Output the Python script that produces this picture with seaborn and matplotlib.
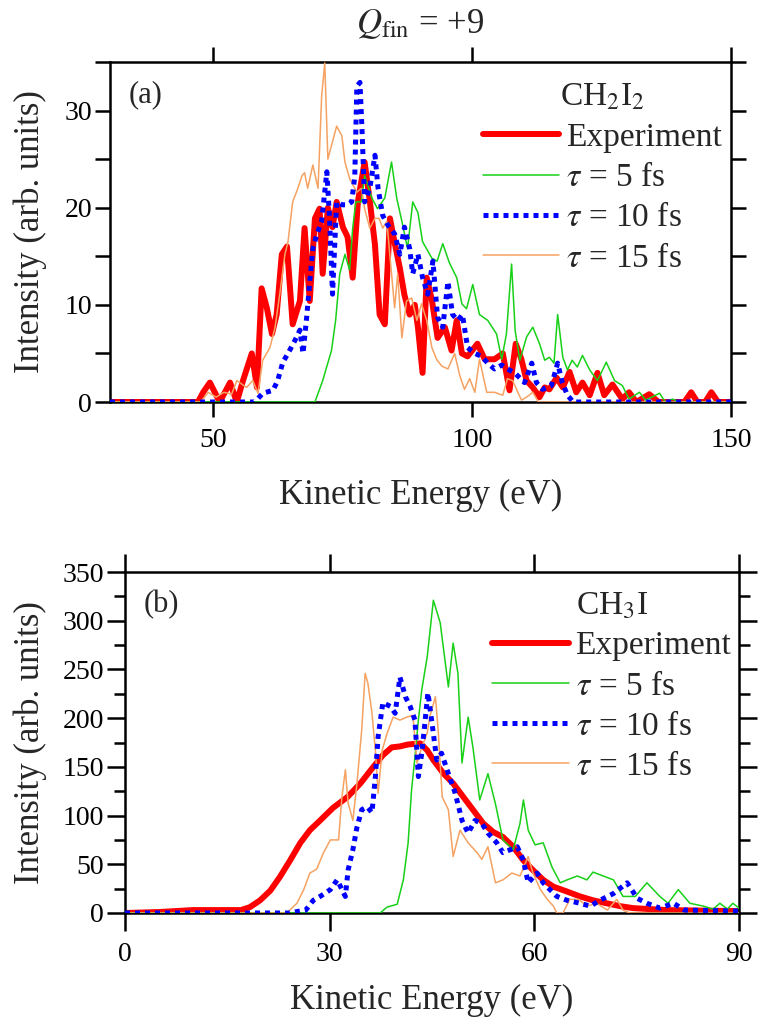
import matplotlib
matplotlib.use("Agg")
import matplotlib.pyplot as plt
import seaborn as sns
from matplotlib.ticker import MultipleLocator, FixedLocator

# ---------------- data: panel (a) CH2I2 ----------------
a_exp_E = [30, 47, 48, 49.3, 51.2, 53.2, 54.5, 55.7, 57.4, 58.4, 59.3, 60.3, 61.3, 62.2, 63.2, 64.2,
           65.3, 66.7, 67.6, 68.6, 69.6, 70.5, 71.1, 72.1, 73.0, 73.8, 75.0, 75.9, 76.9, 77.9, 79.2,
           80.2, 81.2, 82.1, 83.1, 84.1, 85.0, 86.0, 86.9, 87.9, 88.9, 89.5, 90.4, 91.2, 92.2, 93.3,
           94.7, 96.0, 97.0, 98.0, 99.1, 101.0, 102.4, 104.3, 105.9, 107.2, 108.4, 109.5, 110.5,
           111.7, 113.0, 114.0, 114.9, 116.3, 117.5, 118.8, 120.1, 121.3, 122.7, 124.2, 125.5,
           127.1, 129.0, 130.3, 131.7, 134.2, 136, 141, 142.3, 143.5, 145, 146.2, 147.5, 150]
a_exp_I = [0, 0, 1, 2, 0, 2, 0, 2.2, 5, 1.5, 11.7, 9.7, 7, 9, 15.2, 16, 8, 10.4, 17.9, 10.4, 18.9,
           19.9, 13.2, 20, 18, 20.6, 18, 17, 12.8, 20.6, 24.7, 20.7, 16.2, 9, 8, 18.9, 16.4, 13.8,
           11, 9, 10, 7.7, 3, 12.8, 10.5, 6.6, 7.7, 5.3, 8.4, 5, 4.7, 6, 4.4, 4.4, 5, 1.2, 6, 4.4,
           2.2, 1.5, 0.5, 1.5, 1.3, 2.5, 1.5, 3.1, 1, 2, 0.7, 3, 0.7, 1.8, 0.3, 1, 0, 0.8, 0, 0, 1,
           0, 0, 1, 0, 0]

a_t5_E = [30, 69.6, 71.1, 72.8, 73.6, 74.4, 75.4, 76.3, 76.9, 77.5, 78.6, 79.2, 80.6, 81.7, 83.1,
          84.4, 85.4, 86.4, 87.5, 88.5, 89.5, 90.4, 92.2, 93.2, 94.3, 95.6, 97.0, 98.0, 98.9, 100.1,
          101.4, 103.0, 104.7, 105.7, 106.6, 107.6, 108.3, 109.2, 110.5, 111.7, 113.0, 114.0, 114.9,
          115.8, 116.5, 117.5, 118.4, 119.3, 120.3, 121.3, 122.7, 124.2, 125.9, 127.5, 129.0, 130.3,
          132.3, 133.5, 136.2, 137.3, 138.7, 140, 150]
a_t5_I = [0, 0, 2.2, 5.3, 8.4, 13.2, 15.2, 13.6, 17.9, 20.6, 20.6, 23.3, 21, 19.9, 21, 24.7, 21,
          18.6, 15.8, 20.6, 19.5, 16.5, 14.8, 14.5, 16.3, 14.3, 12.8, 10.1, 9.6, 12.1, 9, 8.4, 7,
          4.4, 7, 14.2, 7.3, 4.3, 6.7, 7.7, 6, 4.3, 4.6, 4, 9, 4.6, 3.3, 4.3, 3.6, 4.8, 3.3, 2.2,
          4.1, 2.2, 1.7, 0.3, 1, 0.2, 0.9, 0, 0.3, 0, 0]

a_t10_E = [30, 58, 59.5, 61.5, 62.4, 63.4, 64.4, 65.7, 66.7, 67.3, 68.0, 68.6, 69.2, 70.0, 70.9,
           71.9, 72.4, 73.0, 73.8, 74.8, 75.8, 76.7, 77.3, 77.7, 78.3, 78.7, 79.2, 80.2, 81.2, 81.8,
           82.7, 83.7, 85.0, 86.0, 86.9, 87.9, 88.5, 89.5, 90.4, 91.4, 92.4, 93.3, 94.3, 95.3, 96.2,
           97.2, 98.1, 99.1, 100.5, 101.8, 103.0, 104.3, 105.7, 106.8, 108.2, 110.1, 111.5, 112.4,
           113.6, 115.3, 116.5, 117.4, 118.4, 119.5, 150]
a_t10_I = [0, 0, 0.9, 1.2, 2.2, 4.1, 5, 6.3, 7.4, 5, 8.7, 12.4, 15.8, 17.3, 18.6, 23.7, 19.2, 11.1,
           20.6, 20.3, 20.3, 20.6, 23.2, 32.5, 32.9, 28, 20.6, 22, 25.4, 22, 19.2, 18.2, 17.3, 15.2,
           18, 15.8, 13.2, 15.2, 12.8, 11.1, 14.5, 8.7, 7.7, 12.4, 9, 8.4, 9, 5.6, 5, 4.7, 4, 3.4,
           3.8, 3.4, 3, 2, 4, 2, 1.3, 1.7, 4, 2, 0.7, 0, 0]

a_t15_E = [30, 47.5, 49, 50.5, 52, 53.5, 54.5, 56.4, 57.6, 58.6, 59.5, 60.9, 61.9, 62.8, 63.8, 64.4,
           65.3, 66.3, 67.1, 67.6, 68.2, 69.2, 70.2, 70.9, 71.5, 72.1, 72.8, 73.8, 74.8, 75.4, 76.3,
           77.7, 78.6, 79.2, 80.2, 81.2, 82.0, 82.7, 83.5, 84.4, 85.0, 85.6, 86.4, 87.3, 88.3, 89.3,
           90.2, 91.2, 92.2, 93.1, 94.1, 95.3, 96.6, 97.6, 98.5, 99.5, 100.5, 101.4, 102.8, 104.3,
           105.9, 106.8, 107.8, 109.5, 110.5, 111.7, 112.8, 150]
a_t15_I = [0, 0, 1, 0.5, 1, 0.8, 2.2, 1.5, 2.2, 0.9, 4.3, 5.6, 7.7, 11.1, 15.2, 16.5, 20.6, 22,
           23.3, 23.6, 22, 24.4, 22, 31.5, 34.9, 25, 26.4, 28.4, 27.4, 24.7, 23, 21.6, 22, 19.9,
           17.9, 18.9, 18.9, 17.9, 18.6, 13.2, 9.7, 13.2, 6.6, 10.4, 10.7, 8.4, 10.1, 8.4, 5.6, 4.4,
           3.7, 3.4, 5, 2.7, 1.3, 2.4, 1, 4.4, 1, 1, 0.7, 2.4, 2.2, 0.2, 0.5, 1, 0, 0]

# ---------------- data: panel (b) CH3I ----------------
b_exp_E = [0, 5, 10, 17, 18.3, 19.8, 21.3, 22.7, 24.2, 25.7, 27.1, 28.6, 30.5, 32.6, 34.5, 36.4,
           37.8, 39.1, 40.3, 41.5, 43.3, 44.3, 45.2, 46.7, 48.1, 49.6, 51.0, 52.5, 54.0, 55.4, 56.9,
           58.4, 59.8, 61.3, 62.8, 64.8, 66.7, 68.6, 70.6, 72.6, 74.5, 79.4, 84, 90]
b_exp_I = [0, 1, 3, 3, 6, 13, 23, 37, 54, 72, 85, 95, 108, 119, 133, 150, 162, 170, 171, 173, 174,
           167, 157, 143, 133, 119, 106, 92, 83, 78, 68, 54, 44, 34, 27, 22, 17, 13, 10, 7, 5, 3,
           2.5, 2]

b_t5_E = [0, 37.4, 38.4, 39.9, 40.8, 41.5, 42.0, 42.5, 43.0, 43.5, 44.3, 45.2, 46.2, 47.4, 48.1,
          48.8, 49.4, 50.3, 51.0, 52.0, 53.2, 54.3, 55.4, 56.9, 57.9, 58.4, 59.1, 60.1, 61.3, 62.6,
          63.8, 64.8, 66.3, 67.7, 68.6, 70.1, 71.6, 73.0, 74.8, 76.5, 78.4, 79.6, 81.1, 82.8, 84.8,
          86.2, 87.2, 88.3, 89.1, 90]
b_t5_I = [0, 0, 6, 9, 34, 72, 126, 160, 198, 229, 263, 321, 298, 232, 277, 246, 154, 201, 170, 116,
          143, 112, 75, 65, 92, 116, 85, 70, 72, 47, 31, 34, 38, 34, 42, 38, 34, 17, 17, 31, 17, 10,
          24, 10, 7, 4, 10, 4, 10, 5]

b_t10_E = [0, 24, 26.5, 27.6, 28.6, 30.1, 31.1, 32.3, 32.7, 33.4, 34.0, 34.7, 35.5, 36.2, 36.7,
           37.1, 37.8, 38.9, 39.6, 40.3, 41.1, 41.8, 42.5, 43.0, 43.5, 44.0, 44.4, 45.0, 45.7, 46.4,
           47.4, 48.4, 49.4, 50.3, 51.3, 52.3, 53.2, 54.5, 55.4, 56.5, 57.5, 58.4, 59.1, 60.4, 61.3,
           63.3, 64.8, 66.7, 68.2, 69.6, 71.6, 73.6, 75.1, 76.5, 78.4, 80.4, 82, 90]
b_t10_I = [0, 0, 3, 13, 17, 24, 34, 17, 44, 65, 88, 106, 109, 103, 140, 181, 216, 212, 205, 242,
           222, 212, 198, 140, 164, 198, 226, 195, 157, 164, 143, 123, 95, 82, 95, 92, 82, 72, 62,
           65, 68, 54, 31, 41, 31, 17, 13, 10, 7, 13, 20, 31, 15, 10, 5, 10, 3, 2]

b_t15_E = [0, 23.7, 25.2, 26.2, 27.1, 28.1, 29.1, 30.1, 31.3, 31.8, 32.3, 32.7, 33.4, 34.0, 34.7,
           35.2, 35.6, 36.2, 36.7, 37.1, 37.7, 38.4, 39.3, 40.3, 41.3, 42.2, 42.8, 43.5, 44.3, 44.7,
           45.5, 45.9, 46.5, 47.4, 48.1, 49.1, 50.3, 51.6, 52.3, 53.2, 54.3, 55.4, 56.7, 57.9, 59.1,
           59.8, 60.9, 61.9, 62.8, 63.3, 64.2, 65.2, 66.5, 67.7, 69.1, 70.7, 72.1, 73.0, 74, 90]
b_t15_I = [0, 0, 10, 24, 41, 45, 62, 75, 75, 119, 147, 113, 95, 133, 188, 246, 236, 205, 167, 123,
           167, 184, 201, 198, 201, 203, 154, 170, 185, 202, 222, 188, 119, 106, 58, 85, 72, 62, 55,
           68, 31, 34, 41, 38, 58, 41, 24, 14, 7, 0, 0, 14, 14, 7, 10, 3, 14, 3, 0, 0]

series_labels = ["Experiment", r"$\tau$ = 5 fs", r"$\tau$ = 10 fs", r"$\tau$ = 15 fs"]
a_xticks = [50, 100, 150]
a_yticks = [0, 10, 20, 30]
b_xticks = [0, 30, 60, 90]
b_yticks = [0, 50, 100, 150, 200, 250, 300, 350]
title_text = r"$Q_{\mathrm{fin}}$ = +9"
xlabel_text = "Kinetic Energy (eV)"
ylabel_text = "Intensity (arb. units)"

# ---------------- style ----------------
sns.set_theme(style="white")
plt.rcParams["font.family"] = ["Liberation Serif", "DejaVu Serif"]
plt.rcParams["mathtext.fontset"] = "stix"

RED = "#ff0000"
GREEN = "#18d018"
BLUE = "#0000ff"
ORANGE = "#f5a262"

fig = plt.figure(figsize=(7.58, 10.24), dpi=100)
W, H = 758, 1024
ax_a = fig.add_axes([110 / W, 1 - 402 / H, (731 - 110) / W, (402 - 62) / H])
ax_b = fig.add_axes([125 / W, 1 - 913 / H, (739 - 125) / W, (913 - 572) / H])


def draw(ax, data):
    (eE, eI), (e5, i5), (e10, i10), (e15, i15) = data
    sns.lineplot(x=eE, y=eI, ax=ax, color=RED, lw=4.3, label=series_labels[0],
                 estimator=None, sort=False, zorder=2)
    sns.lineplot(x=e5, y=i5, ax=ax, color=GREEN, lw=1.1, label=series_labels[1],
                 estimator=None, sort=False, zorder=3)
    sns.lineplot(x=e10, y=i10, ax=ax, color=BLUE, lw=3.6, label=series_labels[2],
                 estimator=None, sort=False, linestyle=(0, (1, 1.0)), zorder=5)
    sns.lineplot(x=e15, y=i15, ax=ax, color=ORANGE, lw=1.1, label=series_labels[3],
                 estimator=None, sort=False, zorder=4)
    for sp in ax.spines.values():
        sp.set_linewidth(1.8)
        sp.set_color("black")
    ax.tick_params(which="both", direction="out", top=True, right=True, bottom=True, left=True,
                   width=1.8, colors="black", labelsize=20)
    ax.tick_params(axis="x", which="major", pad=8)
    ax.tick_params(axis="y", which="major", pad=2)
    ax.set_xlabel(xlabel_text, fontsize=25, va="center")
    ax.set_ylabel(ylabel_text, fontsize=25, va="center")


draw(ax_a, [(a_exp_E, a_exp_I), (a_t5_E, a_t5_I), (a_t10_E, a_t10_I), (a_t15_E, a_t15_I)])
draw(ax_b, [(b_exp_E, b_exp_I), (b_t5_E, b_t5_I), (b_t10_E, b_t10_I), (b_t15_E, b_t15_I)])

# panel (a) axes
ax_a.set_xlim(30, 150)
ax_a.set_ylim(0, 35)
ax_a.xaxis.set_major_locator(FixedLocator(a_xticks))
ax_a.yaxis.set_major_locator(FixedLocator(a_yticks))
ax_a.yaxis.set_minor_locator(MultipleLocator(5))
ax_a.tick_params(which="major", length=11)
ax_a.tick_params(axis="y", which="minor", length=11, width=1.8)
ax_a.xaxis.set_label_coords(0.5, -(495 - 402) / 340)
ax_a.yaxis.set_label_coords((30 - 110) / 621, 0.5)
ax_a.text(0.03, 0.905, "(a)", transform=ax_a.transAxes, fontsize=22, va="center", ha="left")

# panel (b) axes
ax_b.set_xlim(0, 90)
ax_b.set_ylim(0, 350)
ax_b.xaxis.set_major_locator(FixedLocator(b_xticks))
ax_b.yaxis.set_major_locator(FixedLocator(b_yticks))
ax_b.yaxis.set_minor_locator(MultipleLocator(25))
ax_b.tick_params(which="major", length=13)
ax_b.tick_params(axis="y", which="minor", length=8, width=1.8)
ax_b.xaxis.set_label_coords(0.5, -(1000 - 913) / 341)
ax_b.yaxis.set_label_coords((30 - 125) / 614, 0.5)
ax_b.text(0.03, 0.905, "(b)", transform=ax_b.transAxes, fontsize=22, va="center", ha="left")

# legends
for ax, title, anchor in [(ax_a, r"CH$_2$I$_2$", (0.600, 0.94)),
                          (ax_b, r"CH$_3$I", (0.598, 0.945))]:
    leg = ax.legend(loc="upper left", bbox_to_anchor=anchor, frameon=False, fontsize=24,
                    title=title, title_fontsize=24, handlelength=2.3, handletextpad=0.2,
                    labelspacing=0.29, borderpad=0, borderaxespad=0)
    leg._legend_box.align = "center"

fig.text((110 + 731) / 2 / W, 1 - 24 / H, title_text, fontsize=25, ha="center", va="center")

fig.savefig("out.png", dpi=100)
